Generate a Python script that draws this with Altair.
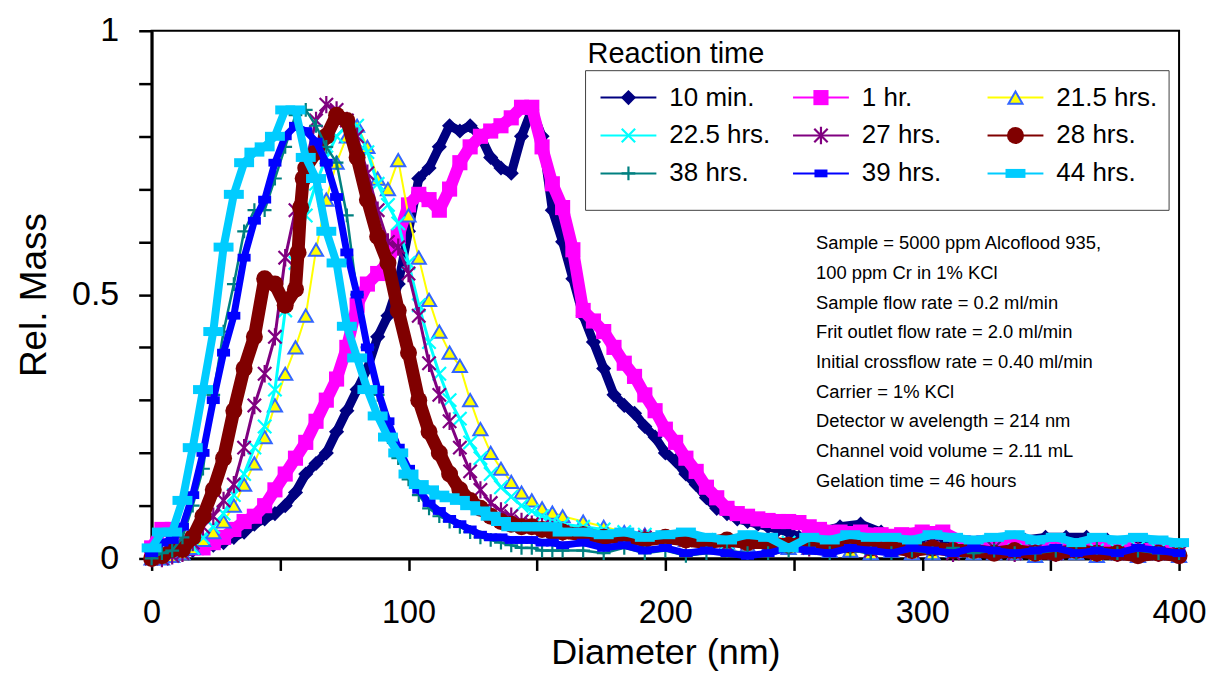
import altair as alt
import pandas as pd

# ---------------- data ----------------
SERIES = ["10 min.", "1 hr.", "21.5 hrs.", "22.5 hrs.", "27 hrs.", "28 hrs.",
          "38 hrs.", "39 hrs.", "44 hrs."]

# sampling grids (diameter, nm)
X_SHORT = list(range(0, 161, 4)) + list(range(168, 401, 8))
X_LONG = list(range(0, 261, 4)) + list(range(268, 401, 8))
X_28 = list(range(0, 57, 4)) + [57, 58, 59] + list(range(60, 161, 4)) + list(range(168, 401, 8))

MIN10 = [0.0, 0.005, 0.01, 0.01, 0.015, 0.02, 0.025, 0.03, 0.04, 0.05, 0.065,
         0.075, 0.085, 0.10, 0.125, 0.16, 0.18, 0.20, 0.24, 0.28, 0.32, 0.36,
         0.42, 0.46, 0.52, 0.62, 0.72, 0.74, 0.78, 0.82, 0.81, 0.82, 0.80,
         0.76, 0.74, 0.73, 0.80, 0.85, 0.80, 0.66, 0.60, 0.53, 0.46, 0.41,
         0.36, 0.31, 0.29, 0.275, 0.25, 0.23, 0.20, 0.185, 0.16, 0.14, 0.115,
         0.095, 0.085, 0.075, 0.07, 0.065, 0.06, 0.055, 0.05, 0.04, 0.035, 0.05,
         0.06, 0.065, 0.05, 0.04, 0.03, 0.035, 0.03, 0.025, 0.03, 0.035, 0.04,
         0.04, 0.04, 0.035, 0.03, 0.025, 0.02]

HR1 = [0.02, 0.055, 0.055, 0.03, 0.02, 0.02, 0.03, 0.04, 0.055, 0.07, 0.08,
       0.10, 0.13, 0.16, 0.19, 0.22, 0.26, 0.30, 0.34, 0.40, 0.48, 0.52,
       0.54, 0.56, 0.61, 0.67, 0.69, 0.68, 0.66, 0.70, 0.75, 0.78, 0.80,
       0.81, 0.82, 0.835, 0.855, 0.855, 0.78, 0.71, 0.665, 0.585, 0.47, 0.45,
       0.43, 0.40, 0.37, 0.345, 0.31, 0.28, 0.245, 0.22, 0.19, 0.165, 0.135,
       0.115, 0.095, 0.085, 0.08, 0.075, 0.072, 0.07, 0.07, 0.068, 0.06, 0.055,
       0.05, 0.05, 0.045, 0.045, 0.05, 0.05, 0.03, 0.03, 0.025, 0.03, 0.025,
       0.02, 0.025, 0.02, 0.02, 0.015, 0.015]

H21_5 = [0.0, 0.0, 0.005, 0.01, 0.02, 0.035, 0.05, 0.07, 0.10, 0.14, 0.18,
         0.23, 0.29, 0.35, 0.40, 0.46, 0.585, 0.68, 0.75, 0.80, 0.82,
         0.78, 0.72, 0.70, 0.755, 0.65, 0.57, 0.49, 0.43, 0.39, 0.365,
         0.30, 0.245, 0.20, 0.17, 0.145, 0.125, 0.11, 0.095, 0.087, 0.08,
         0.07, 0.06, 0.05, 0.045, 0.04, 0.035, 0.03, 0.03, 0.025, 0.02,
         0.02, 0.02, 0.015, 0.015, 0.01, 0.015, 0.01, 0.01, 0.015, 0.01,
         0.01, 0.01, 0.005, 0.01, 0.01, 0.005, 0.01, 0.005, 0.01, 0.005]

H22_5 = [0.0, 0.0, 0.005, 0.01, 0.02, 0.04, 0.06, 0.085, 0.12, 0.16, 0.21,
         0.25, 0.32, 0.47, 0.56, 0.65, 0.71, 0.76, 0.80, 0.82, 0.82,
         0.77, 0.71, 0.67, 0.635, 0.56, 0.48, 0.41, 0.35, 0.30, 0.265,
         0.22, 0.19, 0.16, 0.135, 0.117, 0.10, 0.09, 0.08, 0.07, 0.065,
         0.06, 0.055, 0.05, 0.045, 0.04, 0.035, 0.035, 0.03, 0.03, 0.025,
         0.03, 0.025, 0.02, 0.025, 0.02, 0.02, 0.025, 0.02, 0.015, 0.02,
         0.02, 0.015, 0.02, 0.015, 0.02, 0.015, 0.015, 0.02, 0.015, 0.015]

H27 = [0.0, 0.0, 0.005, 0.01, 0.03, 0.06, 0.08, 0.11, 0.14, 0.21, 0.29,
       0.35, 0.42, 0.57, 0.66, 0.75, 0.83, 0.86, 0.85, 0.83, 0.80,
       0.73, 0.66, 0.60, 0.59, 0.54, 0.46, 0.37, 0.31, 0.26, 0.21,
       0.165, 0.13, 0.105, 0.09, 0.08, 0.07, 0.065, 0.06, 0.055, 0.05,
       0.045, 0.04, 0.035, 0.04, 0.03, 0.035, 0.03, 0.025, 0.03, 0.02,
       0.025, 0.02, 0.02, 0.025, 0.015, 0.02, 0.015, 0.02, 0.01, 0.015,
       0.02, 0.01, 0.015, 0.01, 0.015, 0.01, 0.01, 0.015, 0.01, 0.01]

H28 = [0.0, 0.005, 0.017, 0.017, 0.04, 0.08, 0.13, 0.19, 0.28, 0.36, 0.42,
       0.53, 0.52, 0.48, 0.51, 0.58, 0.665, 0.72, 0.74, 0.77, 0.80, 0.84,
       0.83, 0.76, 0.68, 0.61, 0.56, 0.47, 0.39, 0.30, 0.24, 0.20, 0.16,
       0.13, 0.11, 0.095, 0.08, 0.07, 0.065, 0.06, 0.06, 0.055, 0.05, 0.05,
       0.045, 0.04, 0.04, 0.035, 0.04, 0.035, 0.03, 0.035, 0.03, 0.03,
       0.025, 0.03, 0.02, 0.025, 0.02, 0.02, 0.015, 0.02, 0.015, 0.015,
       0.01, 0.015, 0.01, 0.01, 0.015, 0.01, 0.01, 0.005, 0.01, 0.005]

H38 = [0.0, 0.01, 0.015, 0.04, 0.10, 0.17, 0.31, 0.43, 0.52, 0.62, 0.66,
       0.66, 0.72, 0.78, 0.84, 0.85, 0.82, 0.78, 0.75, 0.65, 0.50,
       0.40, 0.31, 0.23, 0.19, 0.15, 0.12, 0.095, 0.08, 0.07, 0.06,
       0.05, 0.04, 0.035, 0.03, 0.025, 0.02, 0.02, 0.015, 0.015, 0.015,
       0.015, 0.01, 0.02, 0.01, 0.015, 0.005, 0.01, 0.015, 0.01, 0.01,
       0.015, 0.02, 0.01, 0.015, 0.01, 0.01, 0.015, 0.01, 0.02, 0.01,
       0.015, 0.01, 0.01, 0.015, 0.01, 0.02, 0.01, 0.015, 0.01, 0.01]

H39 = [0.01, 0.03, 0.035, 0.06, 0.12, 0.20, 0.30, 0.39, 0.46, 0.57, 0.64,
       0.68, 0.75, 0.80, 0.82, 0.81, 0.79, 0.75, 0.685, 0.58, 0.50,
       0.40, 0.32, 0.26, 0.21, 0.17, 0.13, 0.105, 0.09, 0.075, 0.065,
       0.055, 0.045, 0.04, 0.04, 0.035, 0.035, 0.035, 0.03, 0.03, 0.025,
       0.03, 0.02, 0.025, 0.015, 0.02, 0.01, 0.015, 0.01, 0.005, 0.01,
       0.02, 0.015, 0.01, 0.02, 0.015, 0.01, 0.02, 0.015, 0.01, 0.02,
       0.015, 0.01, 0.015, 0.02, 0.01, 0.015, 0.01, 0.02, 0.015, 0.01]

H44 = [0.02, 0.05, 0.05, 0.11, 0.21, 0.32, 0.43, 0.59, 0.69, 0.75, 0.77,
       0.78, 0.80, 0.85, 0.85, 0.76, 0.72, 0.62, 0.56, 0.44, 0.38,
       0.32, 0.27, 0.23, 0.20, 0.16, 0.14, 0.13, 0.12, 0.115, 0.11,
       0.10, 0.09, 0.08, 0.07, 0.06, 0.06, 0.06, 0.06, 0.06, 0.05,
       0.05, 0.045, 0.05, 0.04, 0.045, 0.05, 0.04, 0.035, 0.045, 0.04,
       0.02, 0.04, 0.035, 0.045, 0.04, 0.04, 0.035, 0.045, 0.04, 0.035,
       0.04, 0.045, 0.035, 0.04, 0.03, 0.04, 0.035, 0.04, 0.035, 0.03]

XS = [X_LONG, X_LONG, X_SHORT, X_SHORT, X_SHORT, X_28, X_SHORT, X_SHORT, X_SHORT]
YS = [MIN10, HR1, H21_5, H22_5, H27, H28, H38, H39, H44]

ANNOTATION = [
    "Sample =  5000 ppm Alcoflood 935,",
    "100 ppm Cr in 1% KCl",
    "Sample flow  rate = 0.2 ml/min",
    "Frit outlet flow  rate = 2.0 ml/min",
    "Initial crossflow  rate = 0.40 ml/min",
    "Carrier = 1% KCl",
    "Detector w avelength = 214 nm",
    "Channel void volume = 2.11 mL",
    "Gelation time = 46 hours",
]

# ---------------- styles ----------------
X_PATH = "M-1,-1L1,1M-1,1L1,-1"
STAR_PATH = "M-1,-1L1,1M-1,1L1,-1M0,-1.3L0,1.3"
PLUS_PATH = "M-1,0L1,0M0,-1L0,1"
RECT_S = "M-1,-0.6L1,-0.6L1,0.6L-1,0.6Z"
RECT_W = "M-1,-0.45L1,-0.45L1,0.45L-1,0.45Z"

# band = width of the line under the markers (the dense markers of the original form a band)
STYLE = {
    "10 min.":   dict(line="#000080", band=9, shape="diamond", size=230, fill="#000080", stroke=None),
    "1 hr.":     dict(line="#FF00FF", band=12, shape="square", size=230, fill="#FF00FF", stroke=None),
    "21.5 hrs.": dict(line="#FFFF00", band=2, shape="triangle-up", size=200, fill="#FFFF00", stroke="#3366FF"),
    "22.5 hrs.": dict(line="#00FFFF", band=3, shape=X_PATH, size=180, fill=None, stroke="#00FFFF"),
    "27 hrs.":   dict(line="#800080", band=3, shape=STAR_PATH, size=180, fill=None, stroke="#800080"),
    "28 hrs.":   dict(line="#800000", band=13, shape="circle", size=290, fill="#800000", stroke=None),
    "38 hrs.":   dict(line="#008080", band=2.5, shape=PLUS_PATH, size=190, fill=None, stroke="#008080"),
    "39 hrs.":   dict(line="#0000FF", band=7, shape=RECT_S, size=170, fill="#0000FF", stroke=None),
    "44 hrs.":   dict(line="#00CCFF", band=8, shape=RECT_W, size=400, fill="#00CCFF", stroke=None),
}

FONT = "Liberation Sans"

rows = []
for name, xs, ys in zip(SERIES, XS, YS):
    for d, v in zip(xs, ys):
        rows.append({"series": name, "d": d, "v": v})
df = pd.DataFrame(rows)

x_axis = alt.Axis(
    title="Diameter (nm)", values=list(range(0, 401, 50)),
    labelExpr="datum.value % 100 == 0 ? datum.label : ''", format="d",
    grid=False, domainColor="black", domainWidth=3, tickColor="black",
    tickWidth=2.5, tickSize=12, labelFontSize=32.5, titleFontSize=36,
    labelPadding=26, titlePadding=7, labelFont=FONT, titleFont=FONT,
    labelColor="black", titleColor="black", titleFontWeight="normal",
    labelFlush=False, labelOverlap=False,
)
y_axis = alt.Axis(
    title="Rel. Mass", values=[0, 0.1, 0.2, 0.3, 0.4, 0.5, 0.6, 0.7, 0.8, 0.9, 1],
    labelExpr="datum.value == 0 ? '0' : (datum.value == 0.5 ? '0.5' : (datum.value == 1 ? '1' : ''))",
    grid=False, domainColor="black", domainWidth=3, tickColor="black",
    tickWidth=2.5, tickSize=13, labelFontSize=34, titleFontSize=37,
    labelPadding=20, titlePadding=18, labelFont=FONT, titleFont=FONT,
    labelColor="black", titleColor="black", titleFontWeight="normal",
    labelFlush=False, labelOverlap=False,
)
XSCALE = alt.Scale(domain=[0, 400], nice=False, zero=False)
YSCALE = alt.Scale(domain=[0, 1], nice=False, zero=False)
X = alt.X("d:Q", scale=XSCALE, axis=x_axis)
Y = alt.Y("v:Q", scale=YSCALE, axis=y_axis)


def point_mark(st):
    kw = dict(shape=st["shape"], size=st["size"], opacity=1)
    if st["fill"] is not None:
        kw.update(filled=True, fill=st["fill"])
        if st["stroke"] is not None:
            kw.update(stroke=st["stroke"], strokeWidth=2)
        else:
            kw.update(strokeWidth=0)
    else:
        kw.update(filled=False, stroke=st["stroke"], strokeWidth=2.2)
    return alt.MarkDef(type="point", **kw)


layers = []
for name in SERIES:
    st = STYLE[name]
    sub = df[df.series == name]
    layers.append(alt.Chart(sub).mark_line(color=st["line"], strokeWidth=st["band"],
                                           strokeJoin="round", strokeCap="round").encode(x=X, y=Y))
    layers.append(alt.Chart(sub, mark=point_mark(st)).encode(x=X, y=Y))


# pixel -> data helpers for legend / annotation placement
def dx(px):
    return (px - 152) / 2.575


def dy(py):
    return (559 - py) / 529


# legend box + title
box = pd.DataFrame({"d": [dx(587)], "d2": [dx(1172)], "v": [dy(70)], "v2": [dy(210)]})
layers.append(alt.Chart(box).mark_rect(fill="white", stroke="#404040", strokeWidth=1).encode(
    x=X, x2="d2:Q", y=Y, y2="v2:Q"))
ttl = pd.DataFrame({"d": [dx(589)], "v": [dy(53)], "t": ["Reaction time"]})
layers.append(alt.Chart(ttl).mark_text(align="left", baseline="middle", fontSize=29, font=FONT,
                                       color="black").encode(x=X, y=Y, text="t:N"))

COL_PX = [602, 795, 990]
ROW_PX = [97, 135, 173]
for i, name in enumerate(SERIES):
    st = STYLE[name]
    cx = COL_PX[i % 3]
    ry = ROW_PX[i // 3]
    seg = pd.DataFrame({"d": [dx(cx)], "d2": [dx(cx + 56)], "v": [dy(ry)]})
    mk = pd.DataFrame({"d": [dx(cx + 28)], "v": [dy(ry)]})
    lab = pd.DataFrame({"d": [dx(cx + 69)], "v": [dy(ry)], "lab": [name]})
    layers.append(alt.Chart(seg).mark_rule(color=st["line"], strokeWidth=2).encode(x=X, x2="d2:Q", y=Y))
    layers.append(alt.Chart(mk, mark=point_mark(st)).encode(x=X, y=Y))
    layers.append(alt.Chart(lab).mark_text(align="left", baseline="middle", fontSize=26, font=FONT,
                                           color="black").encode(x=X, y=Y, text="lab:N"))

ann = pd.DataFrame({"d": [dx(818)] * len(ANNOTATION),
                    "v": [dy(243 + 29.75 * i) for i in range(len(ANNOTATION))],
                    "t": ANNOTATION})
layers.append(alt.Chart(ann).mark_text(align="left", baseline="middle", fontSize=18.4, font=FONT,
                                       color="black").encode(x=X, y=Y, text="t:N"))

chart = alt.layer(*layers).properties(
    width=1030, height=529,
    padding={"left": 144, "top": 22, "right": 27, "bottom": 113},
    autosize=alt.AutoSizeParams(type="none"),
    background="white",
).configure_view(stroke="black", strokeWidth=2)

chart.save("out.html", embed_options={"renderer": "svg", "actions": False})
